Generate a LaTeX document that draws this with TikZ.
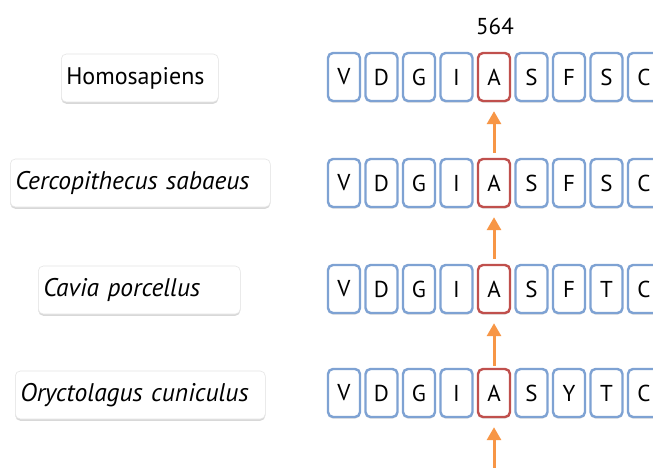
\documentclass[tikz,border=0pt]{standalone}
\usepackage{fontspec}
\setmainfont{PT Sans}
\usetikzlibrary{shadows,arrows.meta,calc}
\definecolor{boxblue}{HTML}{7EA2D3}
\definecolor{boxred}{HTML}{C0504D}
\definecolor{arrorange}{HTML}{F79646}
\begin{document}
\begin{tikzpicture}[x=1pt,y=-1pt,
  lab/.style={rounded corners=5pt, fill=white, draw=black!10, line width=0.6pt,
    drop shadow={opacity=0.3, shadow xshift=0pt, shadow yshift=-1.8pt},
    font=\fontsize{24}{28}\selectfont, inner xsep=5pt, inner ysep=0pt,
    align=left, minimum height=48pt, anchor=west},
  itl/.style={lab, font=\fontsize{25.5}{28}\selectfont\itshape},
  aa/.style={draw=boxblue, line width=2.4pt, rounded corners=5pt, fill=white,
    minimum width=32pt, minimum height=48pt, inner sep=0pt,
    font=\fontsize{23}{26}\selectfont,
    drop shadow={opacity=0.2, shadow xshift=0pt, shadow yshift=-1.8pt}},
  hl/.style={aa, draw=boxred},
  arr/.style={draw=arrorange, line width=3pt, -{Triangle[width=14pt,length=13pt]}},
  num/.style={font=\fontsize{23}{26}\selectfont}]
\clip (0,0) rectangle (653,468);
\fill[white] (0,0) rectangle (653,468);
% species labels
\node[lab, text width=147pt] (sp1) at (61,78) {Homosapiens};
\node[itl, text width=250pt] (sp2) at (10,183) {Cercopithecus sabaeus};
\node[itl, text width=192pt] (sp3) at (38,290) {Cavia porcellus};
\node[itl, text width=240pt] (sp4) at (15,395) {Oryctolagus cuniculus};
% sequences
\foreach \yy/\seq [count=\r] in {77/{V,D,G,I,A,S,F,S,C},183/{V,D,G,I,A,S,F,S,C},289/{V,D,G,I,A,S,F,T,C},393/{V,D,G,I,A,S,Y,T,C}}{
  \foreach \l [count=\c] in \seq {
    \def\st{aa}\ifnum\c=5 \def\st{hl}\fi
    \node[\st] (r\r c\c) at ({344+37.5*(\c-1)},\yy) {\l};
  }
}
\node[num] (pos) at (495,26) {564};
% arrows
\draw[arr] ($(r2c5.north)+(0,-5)$) -- ($(r1c5.south)+(0,9)$);
\draw[arr] ($(r3c5.north)+(0,-5)$) -- ($(r2c5.south)+(0,9)$);
\draw[arr] ($(r4c5.north)+(0,-2)$) -- ($(r3c5.south)+(0,9)$);
\coordinate (bot) at (494,472);
\draw[arr] (bot) -- ($(r4c5.south)+(0,9)$);
\end{tikzpicture}
\end{document}
